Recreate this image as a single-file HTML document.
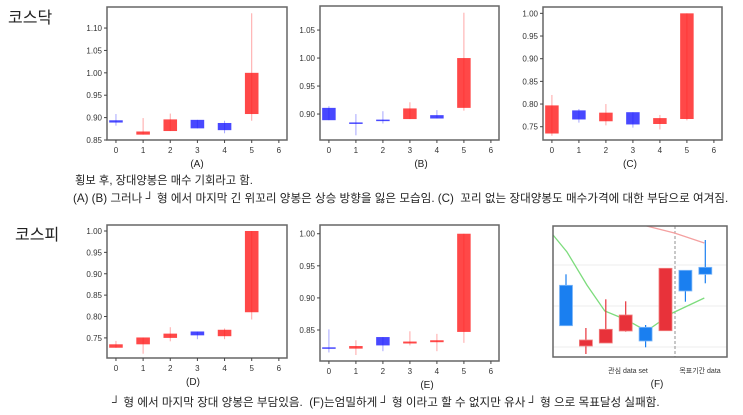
<!DOCTYPE html>
<html><head><meta charset="utf-8">
<style>
html,body{margin:0;padding:0;background:#fff;}
body{width:743px;height:415px;overflow:hidden;position:relative;font-family:"Liberation Sans","Noto Sans CJK KR",sans-serif;}
.t{position:absolute;white-space:nowrap;color:#222;}
</style></head>
<body>
<div class="t" style="left:8px;top:4px;font-size:16px;">코스닥</div>
<div class="t" style="left:15px;top:221px;font-size:16px;">코스피</div>
<div class="t" style="left:75px;top:172px;font-size:11.3px;">횡보 후, 장대양봉은 매수 기회라고 함.</div>
<div class="t" style="left:73px;top:190px;font-size:11.6px;">(A) (B) 그러나 ┘ 형 에서 마지막 긴 위꼬리 양봉은 상승 방향을 잃은 모습임. (C)&nbsp; 꼬리 없는 장대양봉도 매수가격에 대한 부담으로 여겨짐.</div>
<div class="t" style="left:112px;top:394px;font-size:11.6px;">┘ 형 에서 마지막 장대 양봉은 부담있음.&nbsp; (F)는엄밀하게 ┘ 형 이라고 할 수 없지만 유사 ┘ 형 으로 목표달성 실패함.</div>
<svg id="svg" width="743" height="415" style="position:absolute;left:0;top:0;"></svg>
<script>
const aOpen=[0.894,0.862,0.870,0.895,0.888,0.908];
const aClose=[0.889,0.869,0.896,0.876,0.872,1.000];
const aHigh=[0.908,0.899,0.909,0.895,0.893,1.133];
const aLow=[0.882,0.862,0.870,0.876,0.865,0.893];
const aTicks=[0.85,0.90,0.95,1.00,1.05,1.10];

const bOpen=[0.911,0.885,0.890,0.891,0.898,0.911];
const bClose=[0.889,0.883,0.888,0.910,0.892,1.000];
const bHigh=[0.914,0.900,0.905,0.921,0.907,1.081];
const bLow=[0.889,0.862,0.883,0.891,0.892,0.906];
const bTicks=[0.90,0.95,1.00,1.05];

const cOpen=[0.735,0.786,0.762,0.782,0.756,0.767];
const cClose=[0.797,0.766,0.781,0.755,0.769,1.000];
const cHigh=[0.820,0.789,0.800,0.782,0.776,1.000];
const cLow=[0.730,0.759,0.753,0.748,0.744,0.764];
const cTicks=[0.75,0.80,0.85,0.90,0.95,1.00];

const dOpen=[0.727,0.735,0.750,0.765,0.754,0.810];
const dClose=[0.735,0.751,0.760,0.756,0.769,1.000];
const dHigh=[0.743,0.751,0.775,0.765,0.772,1.000];
const dLow=[0.727,0.713,0.742,0.747,0.747,0.793];
const dTicks=[0.75,0.80,0.85,0.90,0.95,1.00];

const eOpen=[0.823,0.821,0.839,0.829,0.831,0.847];
const eClose=[0.822,0.825,0.826,0.832,0.834,1.000];
const eHigh=[0.851,0.834,0.839,0.848,0.844,1.000];
const eLow=[0.815,0.811,0.817,0.826,0.817,0.830];
const eTicks=[0.85,0.90,0.95,1.00];

const xTicks=[0,1,2,3,4,5,6];

const fOpen=[71.7,11,14,26,29.7,26.3,86.7,89.7];
const fClose=[31.3,17,27.7,42,16,88.7,66,82.7];
const fHigh=[82.7,29,57.7,55.7,32,88.7,86.7,117];
const fLow=[31.3,3,14,25.3,9.7,26.3,55.3,73.7];
const fGreen=[122,105,72,46,37,26,44,59];
const fGreenX=[-0.65,0.05,1.05,1.95,3.05,4.05,5.35,6.95];
const fPink=[131,124,114];
const fPinkX=[4.05,5.45,6.95];

const svg=document.getElementById('svg');
const NS='http://www.w3.org/2000/svg';
function mk(tag,attrs,name){const e=document.createElementNS(NS,tag);for(const k in attrs)e.setAttribute(k,attrs[k]);


svg.appendChild(e);return e;}

function panel(id,L,R,T,B,ymin,ymax,open,close,high,low,ticks,label,lx){
  const xs=v=>L+(v+0.33)/(6.63)*(R-L);
  const ys=v=>B-(v-ymin)/(ymax-ymin)*(B-T);
  for(let i=0;i<open.length;i++){
    const up=close[i]>=open[i];
    const col=up?'#ff2020':'#2020ff';
    const x=xs(i), w=xs(0.25)-xs(0);
    const y1=ys(Math.max(open[i],close[i])), y2=ys(Math.min(open[i],close[i]));
    mk('rect',{x:x-w,y:y1,width:2*w,height:Math.max(1.5,y2-y1),fill:col,'fill-opacity':0.82},'candle-body-'+id+'-'+i);
    mk('line',{x1:x,x2:x,y1:ys(high[i]),y2:ys(low[i]),stroke:col,'stroke-opacity':0.4,'stroke-width':1},'candle-wick-'+id+'-'+i);
  }
  mk('rect',{x:L,y:T,width:R-L,height:B-T,fill:'none',stroke:'#666','stroke-width':1.5},'plot-frame-'+id);
  ticks.forEach(t=>{const y=ys(t);
    mk('line',{x1:L-3,x2:L,y1:y,y2:y,stroke:'#444'},'y-tick-'+id);
    const tx=mk('text',{x:L-5,y:y+3,'font-size':8,fill:'#333','text-anchor':'end','font-family':'Liberation Sans, sans-serif'},'y-tick-label-'+id);
    tx.textContent=t.toFixed(2);});
  xTicks.forEach(t=>{const x=xs(t);
    mk('line',{x1:x,x2:x,y1:B,y2:B+3,stroke:'#444'},'x-tick-'+id);
    const tx=mk('text',{x:x,y:B+13,'font-size':8,fill:'#333','text-anchor':'middle','font-family':'Liberation Sans, sans-serif'},'x-tick-label-'+id);
    tx.textContent=t;});
  const lb=mk('text',{x:lx,y:B+27,'font-size':10,fill:'#222','text-anchor':'middle','font-family':'Liberation Sans, sans-serif'},'x-axis-title-'+id);
  lb.textContent=label;
}
panel('a',107,287,7,140,0.85,1.147,aOpen,aClose,aHigh,aLow,aTicks,'(A)',197);
panel('b',320,499,6,140,0.8536,1.093,bOpen,bClose,bHigh,bLow,bTicks,'(B)',421);
panel('c',543,722,7,140,0.7207,1.014,cOpen,cClose,cHigh,cLow,cTicks,'(C)',630);
panel('d',107,287,225,358,0.703,1.014,dOpen,dClose,dHigh,dLow,dTicks,'(D)',193);
panel('e',320,499,225,361,0.8017,1.0136,eOpen,eClose,eHigh,eLow,eTicks,'(E)',427);

(function(){
  const L=553,R=727,T=226,B=357;
  const xs=i=>566+i*19.9;
  const ys=v=>B-v;
  [265,306,347].forEach(y=>mk('line',{x1:L,x2:R,y1:y,y2:y,stroke:'#eee','stroke-width':1},'gridline-f'));
  mk('line',{x1:675,x2:675,y1:T,y2:B,stroke:'#777','stroke-dasharray':'3,2','stroke-width':0.8},'divider-line-f');
  mk('polyline',{points:fPinkX.map((x,i)=>xs(x)+','+ys(fPink[i])).join(' '),fill:'none',stroke:'#f4a0a0','stroke-width':1.3},'pink-ma-line');
  mk('polyline',{points:fGreenX.map((x,i)=>xs(x)+','+ys(fGreen[i])).join(' '),fill:'none',stroke:'#7ddc7d','stroke-width':1.3},'green-ma-line');
  for(let i=0;i<fOpen.length;i++){
    const up=fClose[i]>=fOpen[i];
    const col=up?'#e8323a':'#1a7ff0';
    const x=xs(i);
    mk('line',{x1:x,x2:x,y1:ys(fHigh[i]),y2:ys(fLow[i]),stroke:col,'stroke-width':1.2},'candle-wick-f-'+i);
    const y1=ys(Math.max(fOpen[i],fClose[i])),y2=ys(Math.min(fOpen[i],fClose[i]));
    mk('rect',{x:x-6.5,y:y1,width:13,height:y2-y1,fill:col,stroke:up?'#f08080':'#80b8f8','stroke-width':0.8},'candle-body-f-'+i);
  }
  mk('rect',{x:L,y:T,width:R-L,height:B-T,fill:'none',stroke:'#666','stroke-width':1.5},'plot-frame-f');
  const t1=mk('text',{x:628,y:373,'font-size':7,fill:'#333','text-anchor':'middle','font-family':'Liberation Sans, Noto Sans CJK KR, sans-serif'},'interest-data-label');
  t1.textContent='관심 data set';
  const t2=mk('text',{x:700,y:373,'font-size':7,fill:'#333','text-anchor':'middle','font-family':'Liberation Sans, Noto Sans CJK KR, sans-serif'},'target-period-label');
  t2.textContent='목표기간 data';
  const t3=mk('text',{x:657,y:387,'font-size':10,fill:'#222','text-anchor':'middle','font-family':'Liberation Sans, sans-serif'},'x-axis-title-f');
  t3.textContent='(F)';
})();
</script>
</body></html>
